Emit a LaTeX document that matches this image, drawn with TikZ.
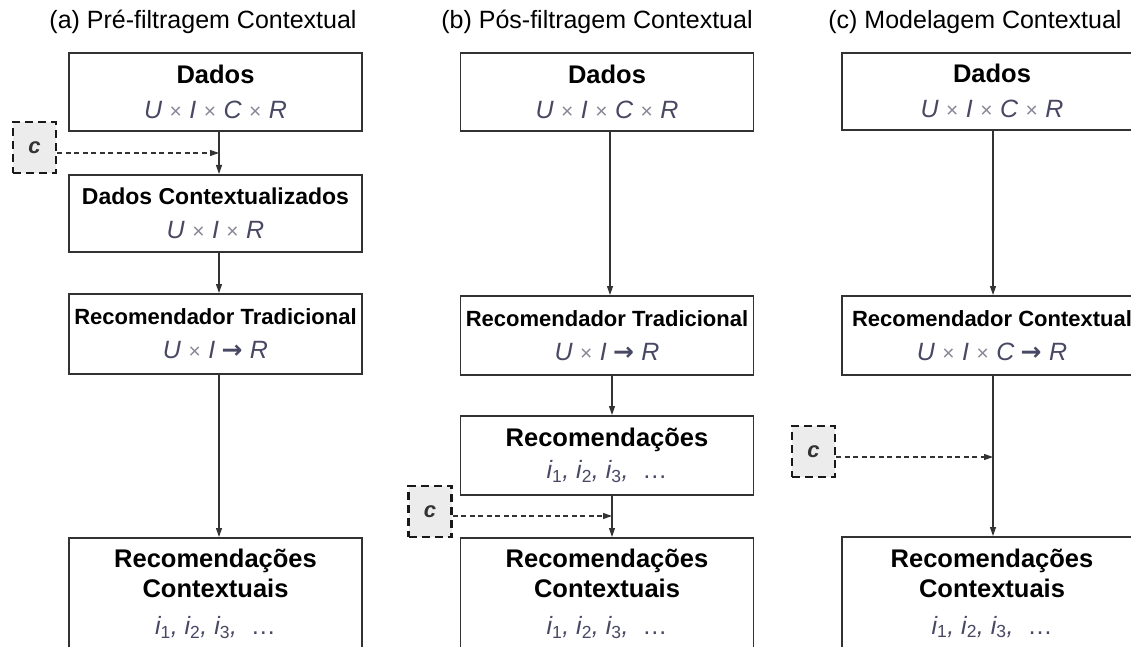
\documentclass[tikz,border=0pt]{standalone}
\usepackage{fontspec}
\setmainfont{Liberation Sans}
\newfontfamily\arrowfont{DejaVu Sans}
\usetikzlibrary{arrows.meta}
\definecolor{boxline}{RGB}{50,50,50}
\definecolor{mathcol}{RGB}{72,72,100}
\definecolor{timescol}{RGB}{135,135,150}
\definecolor{cfill}{RGB}{236,236,236}
\newcommand{\xx}{\hspace{0.3em}{\upshape\color{timescol}\fontsize{21}{22}\selectfont ×}\hspace{0.3em}}
\newcommand{\ra}{\hspace{0.25em}{\upshape\arrowfont\bfseries →}\hspace{0.3em}}
\newcommand{\mtx}[1]{{\itshape\color{mathcol}\fontsize{25}{30}\selectfont #1}}
\newcommand{\tb}[1]{{\bfseries\fontsize{25.5}{30}\selectfont #1}}
\newcommand{\tbs}[1]{{\bfseries\fontsize{22}{26}\selectfont #1}}
\newcommand{\tbm}[1]{{\bfseries\fontsize{23}{26}\selectfont #1}}
\newcommand{\sub}[1]{\textsubscript{\upshape #1}}
\newcommand{\ilist}{\mtx{i\sub{1}, i\sub{2}, i\sub{3}, \ \upshape…}}
\begin{document}
\begin{tikzpicture}[x=1pt,y=-1pt,
  box/.style={draw=boxline, line width=1.7pt, minimum width=293pt, anchor=north, align=center, inner sep=0pt, fill=white, font=\fontsize{25}{32}\selectfont},
  ctx/.style={draw=black!90, dash pattern=on 8pt off 5pt, line width=2.6pt, fill=cfill, minimum width=43pt, minimum height=51pt, inner sep=0pt, font=\bfseries\itshape\fontsize{22}{24}\selectfont, text=black!80},
  flow/.style={draw=black!80, line width=1.1pt, -{Triangle[length=9pt,width=6pt]}},
  dflow/.style={draw=black!80, line width=1.1pt, dash pattern=on 5pt off 3.5pt, -{Triangle[length=9pt,width=6pt]}},
  title/.style={font=\fontsize{25}{30}\selectfont}]
\useasboundingbox (0,0) rectangle (1131,647);

% titles
\node[title] (ta) at (203,22) {(a) Pré-filtragem Contextual};
\node[title] (tb) at (597,22) {(b) Pós-filtragem Contextual};
\node[title] (tc) at (975,22) {(c) Modelagem Contextual};

% column a
\node[box, minimum height=78pt] (a1) at (215.5,52) {\tb{Dados}\\[3pt]\mtx{U\xx I\xx C\xx R}};
\node[box, minimum height=77pt] (a2) at (215.5,174) {\tbm{Dados Contextualizados}\\[2pt]\mtx{U\xx I\xx R}};
\node[box, minimum height=80pt] (a3) at (215.5,293) {\tbs{Recomendador Tradicional}\\[2pt]\mtx{U\xx I\ra R}};
\node[box, minimum height=112pt] (a4) at (215.5,537) {\tb{Recomendações}\\[-2pt]\tb{Contextuais}\\[5pt]\ilist};
\node[ctx] (ca) at (34.5,147.5) {c};
\draw[flow] ([xshift=3.5pt]a1.south) -- ([xshift=3.5pt]a2.north);
\draw[flow] ([xshift=3.5pt]a2.south) -- ([xshift=3.5pt]a3.north);
\draw[flow] ([xshift=3.5pt]a3.south) -- ([xshift=3.5pt]a4.north);
\coordinate (ja) at (219,153);
\draw[dflow] (ca.east |- ja) -- (ja);

% column b
\node[box, minimum height=78pt] (b1) at (607,52) {\tb{Dados}\\[3pt]\mtx{U\xx I\xx C\xx R}};
\node[box, minimum height=79pt] (b2) at (607,295) {\tbs{Recomendador Tradicional}\\[2pt]\mtx{U\xx I\ra R}};
\node[box, minimum height=79pt] (b3) at (607,415) {\tb{Recomendações}\\\ilist};
\node[box, minimum height=112pt] (b4) at (607,537) {\tb{Recomendações}\\[-2pt]\tb{Contextuais}\\[5pt]\ilist};
\node[ctx] (cb) at (430,511.5) {c};
\draw[flow] ([xshift=3pt]b1.south) -- ([xshift=3pt]b2.north);
\draw[flow] ([xshift=5pt]b2.south) -- ([xshift=5pt]b3.north);
\draw[flow] ([xshift=5pt]b3.south) -- ([xshift=5pt]b4.north);
\coordinate (jb) at (612,516);
\draw[dflow] (cb.east |- jb) -- (jb);

% column c
\node[box, minimum width=300pt, minimum height=77pt] (c1) at (992,52) {\tb{Dados}\\[3pt]\mtx{U\xx I\xx C\xx R}};
\node[box, minimum width=300pt, minimum height=79pt] (c2) at (992,295) {\tbs{Recomendador Contextual}\\[2pt]\mtx{U\xx I\xx C\ra R}};
\node[box, minimum width=300pt, minimum height=113pt] (c4) at (992,536) {\tb{Recomendações}\\[-2pt]\tb{Contextuais}\\[5pt]\ilist};
\node[ctx] (cc) at (813.5,451.5) {c};
\draw[flow] ([xshift=1pt]c1.south) -- ([xshift=1pt]c2.north);
\draw[flow] ([xshift=1pt]c2.south) -- ([xshift=1pt]c4.north);
\coordinate (jc) at (993,457);
\draw[dflow] (cc.east |- jc) -- (jc);
\end{tikzpicture}
\end{document}
